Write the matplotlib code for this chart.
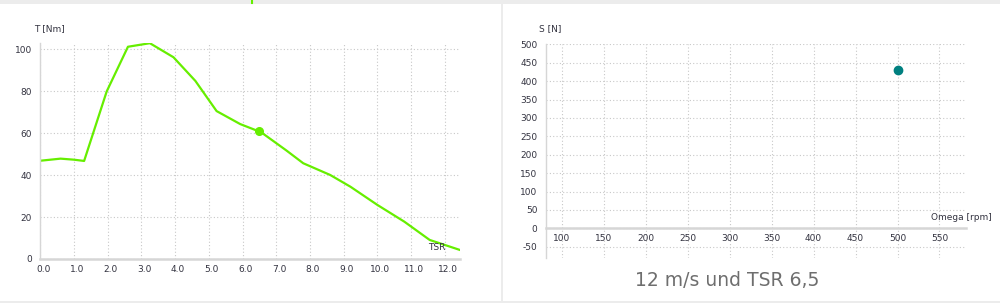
import numpy as np
import matplotlib
matplotlib.use('Agg')
import matplotlib.pyplot as plt
from matplotlib.patches import Rectangle
from matplotlib.lines import Line2D
import matplotlib.transforms as mtransforms

plt.rcParams['axes.unicode_minus'] = False

# Torque curve over tip speed ratio
tsr = [0.0, 0.6, 1.0, 1.3, 1.97, 2.6, 3.25, 3.95, 4.6, 5.23, 5.93, 6.55,
       7.3, 7.8, 8.6, 9.2, 10.0, 10.8, 11.55, 12.45]
torque = [46.9, 47.9, 47.4, 46.8, 80.0, 101.3, 103.0, 96.3, 85.0, 70.6, 64.4, 60.5,
          51.8, 45.7, 40.1, 34.5, 25.8, 17.8, 9.1, 4.3]
op_tsr = [6.5]
op_torque = [61]

# Thrust at operating speed
omega = [500]
thrust = [430]

tsr_ticks = np.arange(0, 13, 1.0)
tsr_labels = [f'{v:.1f}' for v in tsr_ticks]
t_ticks = [0, 20, 40, 60, 80, 100]
om_ticks = list(range(100, 551, 50))
s_ticks = list(range(-50, 501, 50))

title = '12 m/s und TSR 6,5'

W, H = 1000, 303
fig = plt.figure(figsize=(W / 100, H / 100), dpi=100)
fig.patch.set_facecolor('white')

txt_col = '#333340'
grid_col = '#c8c8c8'
axis_col = '#d6d6d6'
fs = 6.5

def px(x, y):
    return x / W, 1 - y / H

def style(ax):
    ax.set_facecolor('white')
    for s in ['top', 'right']:
        ax.spines[s].set_visible(False)
    ax.spines['left'].set_color(axis_col)
    ax.spines['left'].set_linewidth(1.0)
    ax.spines['bottom'].set_color(axis_col)
    ax.spines['bottom'].set_linewidth(1.8)
    ax.tick_params(length=0, labelsize=fs, labelcolor=txt_col)
    ax.tick_params(axis='x', pad=4)
    ax.tick_params(axis='y', pad=6)
    ax.grid(True, color=grid_col, linestyle=(0, (1, 2)), linewidth=0.8)
    ax.set_axisbelow(True)

# left chart
ax1 = fig.add_axes([0.0403, 1 - 259 / H, 0.4197, 215.8 / H])
style(ax1)
ax1.set_xlim(0, 12.45)
ax1.set_ylim(0, 103)
ax1.set_xticks(tsr_ticks)
ax1.set_xticklabels(tsr_labels)
ax1.set_yticks(t_ticks)
off = mtransforms.ScaledTranslation(3 / 100, 0, fig.dpi_scale_trans)
for lab in ax1.get_xticklabels():
    lab.set_transform(lab.get_transform() + off)
ax1.plot(tsr, torque, color='#66ee00', linewidth=1.6, solid_joinstyle='round')
ax1.plot(op_tsr, op_torque, 'o', color='#66ee00', markersize=5.5)

# right chart
ax2 = fig.add_axes([0.5457, 1 - 258.3 / H, 0.4203, 214 / H])
style(ax2)
ax2.set_xlim(80.7, 581.6)
ax2.set_ylim(-81.5, 500)
ax2.spines['bottom'].set_position(('data', 0))
ax2.set_xticks(om_ticks)
ax2.set_yticks(s_ticks)
ax2.plot(omega, thrust, 'o', color='#008080', markersize=6)

# axis titles
fig.text(*px(49, 29), 'T [Nm]', fontsize=fs, color=txt_col, ha='center', va='center')
fig.text(*px(437, 247), 'TSR', fontsize=fs, color=txt_col, ha='center', va='center')
fig.text(*px(550, 29), 'S [N]', fontsize=fs, color=txt_col, ha='center', va='center')
fig.text(*px(961, 217), 'Omega [rpm]', fontsize=fs, color=txt_col, ha='center', va='center')
fig.text(*px(727, 280), title, fontsize=13.5, color='#6e6e6e', ha='center', va='center')

# panel frame
fig.add_artist(Rectangle((0, 1 - 4 / H), 1, 4 / H, transform=fig.transFigure,
                         facecolor='#ececec', edgecolor='none'))
fig.add_artist(Rectangle((0, 0), 1, 2 / H, transform=fig.transFigure,
                         facecolor='#ececec', edgecolor='none'))
fig.add_artist(Rectangle((501 / W, 0), 2 / W, 1, transform=fig.transFigure,
                         facecolor='#ececec', edgecolor='none'))
fig.add_artist(Line2D([252 / W, 252 / W], [1, 1 - 3 / H], transform=fig.transFigure,
                      color='#66ee00', linewidth=1.5))

plt.savefig('out.png', dpi=100)
